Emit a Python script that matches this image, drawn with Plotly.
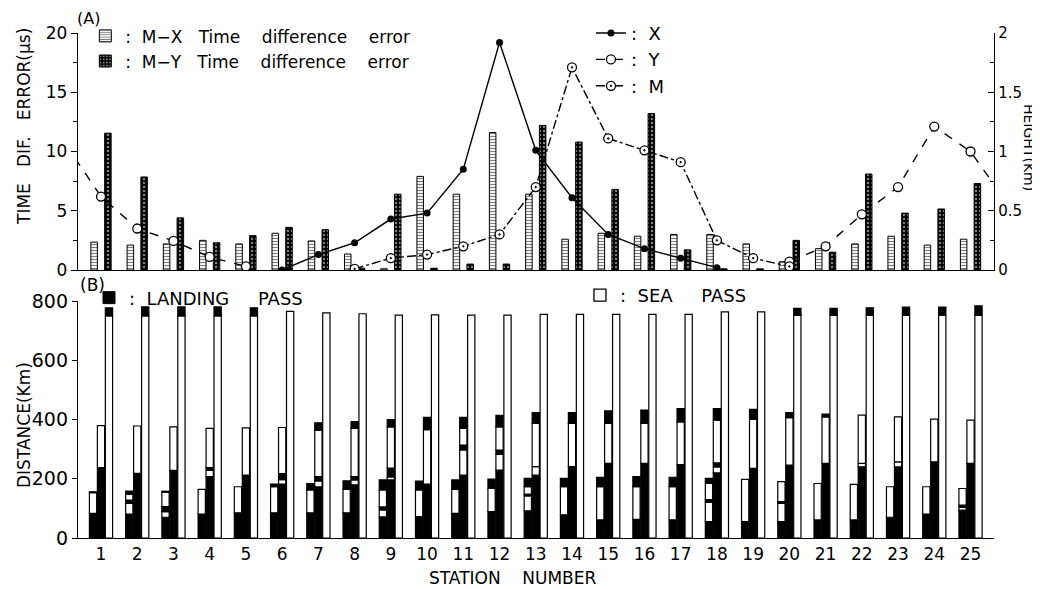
import plotly.graph_objects as go

# ---------------- data ----------------
stations = list(range(1, 26))
station_labels = [str(s) for s in stations]

# Panel (A): time difference errors (microseconds)
mx_error = [2.35, 2.1, 2.2, 2.5, 2.2, 3.1, 2.45, 1.35, 0.1, 7.9, 6.4, 11.6, 6.4,
            2.6, 3.1, 2.85, 3.0, 3.0, 2.2, 0.7, 1.8, 2.2, 2.85, 2.1, 2.6]
my_error = [11.55, 7.85, 4.4, 2.3, 2.9, 3.6, 3.4, 0.15, 6.4, 0.15, 0.5, 0.5, 12.2,
            10.8, 6.8, 13.2, 1.7, 0.1, 0.1, 2.5, 1.5, 8.1, 4.8, 5.15, 7.3]

# Panel (A): heights (km) at stations 0..26 (0 and 26 lie outside the frame)
line_stations = list(range(0, 27))
x_height = [None, None, None, None, None, None,
            0.0, 0.13, 0.23, 0.43, 0.48, 0.85, 1.92, 1.01, 0.61, 0.30, 0.18, 0.10, 0.02,
            None, None, None, None, None, None, None, None]
y_height = [1.07, 0.62, 0.35, 0.245, 0.11, 0.03,
            None, None, None, None, None, None, None, None, None, None, None, None, None, None,
            0.07, 0.20, 0.47, 0.70, 1.21, 1.00, 0.57]
m_height = [None, None, None, None, None, None, None, None,
            0.01, 0.10, 0.13, 0.20, 0.30, 0.70, 1.71, 1.11, 1.01, 0.91, 0.25, 0.10, 0.03,
            None, None, None, None, None, None]

# Panel (B): distance segments (km), bottom to top
# first and second bars: [landing, sea, landing, sea, landing]
bar1_segments = [
    [83, 0, 0, 70, 3], [81, 36, 11, 20, 10], [70, 19, 17, 49, 3], [81, 0, 0, 83, 0],
    [85, 0, 0, 88, 0], [85, 0, 0, 88, 9], [85, 0, 0, 77, 22], [85, 0, 0, 79, 29],
    [71, 24, 10, 57, 34], [72, 0, 0, 90, 30], [83, 0, 0, 81, 32], [89, 0, 0, 79, 31],
    [92, 50, 6, 25, 28], [78, 0, 0, 95, 28], [61, 0, 0, 112, 32], [63, 0, 0, 110, 34],
    [61, 0, 0, 112, 32], [55, 65, 10, 54, 17], [55, 0, 0, 143, 0], [55, 62, 6, 67, 0],
    [61, 0, 0, 123, 0], [61, 0, 0, 120, 0], [70, 0, 0, 103, 0], [81, 0, 0, 92, 0],
    [94, 9, 8, 56, 0],
]
bar2_segments = [
    [238, 0, 0, 141, 0], [218, 0, 0, 160, 0], [228, 0, 0, 147, 0], [207, 22, 9, 132, 0],
    [212, 0, 0, 160, 0], [182, 15, 20, 156, 0], [173, 20, 14, 157, 25], [179, 17, 11, 164, 22],
    [196, 10, 30, 139, 25], [182, 0, 0, 184, 41], [212, 85, 17, 56, 37], [229, 54, 14, 78, 39],
    [212, 29, 0, 146, 36], [241, 0, 0, 146, 36], [252, 0, 0, 135, 42], [252, 0, 0, 135, 45],
    [248, 0, 0, 144, 45], [220, 20, 14, 144, 39], [235, 0, 0, 165, 34], [246, 0, 0, 160, 17],
    [252, 0, 0, 157, 9], [240, 12, 0, 163, 0], [240, 17, 0, 152, 0], [257, 0, 0, 144, 0],
    [252, 0, 0, 146, 0],
]
# third bar: [sea, landing]
bar3_segments = [
    [750, 27], [750, 30], [750, 30], [750, 30], [750, 27], [765, 0], [760, 0], [757, 0],
    [752, 0], [753, 0], [752, 0], [752, 0], [755, 0], [755, 0], [755, 0], [755, 0],
    [755, 0], [763, 0], [763, 0], [752, 23], [752, 23], [752, 25], [752, 27], [752, 27],
    [752, 32],
]

# ---------------- figure ----------------
# The page body adds an 8px margin, so the figure is 8px smaller than the window.
FONT = "DejaVu Sans"
NB = "\u00a0"
fig = go.Figure()

# Panel A bars
fig.add_trace(go.Bar(
    x=stations, y=mx_error, offset=-0.28, width=0.18, xaxis="x", yaxis="y",
    name=f":{NB} M\u2212X{NB}{NB} Time{NB}{NB}{NB} difference{NB}{NB}{NB} error", legend="legend",
    marker=dict(color="white", line=dict(color="black", width=1),
                pattern=dict(shape="-", fgcolor="black", bgcolor="white", size=3, solidity=0.4)),
))
fig.add_trace(go.Bar(
    x=stations, y=my_error, offset=0.10, width=0.18, xaxis="x", yaxis="y",
    name=f":{NB} M\u2212Y{NB}{NB} Time{NB}{NB}{NB} difference{NB}{NB}{NB} error", legend="legend",
    marker=dict(color="black", line=dict(color="black", width=1),
                pattern=dict(shape=".", fgcolor="white", bgcolor="black", size=4, solidity=0.3)),
))

# Panel A lines (height, right axis)
fig.add_trace(go.Scatter(
    x=line_stations, y=x_height, xaxis="x", yaxis="y2", mode="lines+markers",
    name=f":{NB} X", legend="legend2",
    line=dict(color="black", width=1.4),
    marker=dict(symbol="circle", size=7, color="black"),
))
fig.add_trace(go.Scatter(
    x=line_stations, y=y_height, xaxis="x", yaxis="y2", mode="lines+markers",
    name=f":{NB} Y", legend="legend2",
    line=dict(color="black", width=1.4, dash="dash"),
    marker=dict(symbol="circle", size=9, color="white", line=dict(color="black", width=1.3)),
))
fig.add_trace(go.Scatter(
    x=line_stations, y=m_height, xaxis="x", yaxis="y2", mode="lines+markers",
    name=f":{NB} M", legend="legend2",
    line=dict(color="black", width=1.4, dash="dashdot"),
    marker=dict(symbol="circle-dot", size=9, color="white", line=dict(color="black", width=1.3)),
))

# Panel B stacked segments
def add_stack(segments, kinds, offset):
    base = [0] * len(stations)
    for j, kind in enumerate(kinds):
        vals = [row[j] for row in segments]
        yv = [v if v > 0 else None for v in vals]
        landing = kind == "L"
        fig.add_trace(go.Bar(
            x=stations, y=yv, base=list(base), offset=offset, width=0.2,
            xaxis="x2", yaxis="y3",
            marker=dict(color="black" if landing else "white",
                        line=dict(color="black", width=1.2)),
            showlegend=False,
        ))
        base = [b + v for b, v in zip(base, vals)]

add_stack(bar1_segments, ["L", "S", "L", "S", "L"], -0.32)
add_stack(bar2_segments, ["L", "S", "L", "S", "L"], -0.10)
add_stack(bar3_segments, ["S", "L"], 0.12)

# legend entries for panel B
fig.add_trace(go.Bar(x=[None], y=[None], xaxis="x2", yaxis="y3",
                     name=f":{NB} LANDING{NB}{NB}{NB}{NB} PASS", legend="legend3",
                     marker=dict(color="black", line=dict(color="black", width=1))))
fig.add_trace(go.Bar(x=[None], y=[None], xaxis="x2", yaxis="y3",
                     name=f":{NB} SEA{NB}{NB}{NB}{NB} PASS", legend="legend4",
                     marker=dict(color="white", line=dict(color="black", width=1.3))))

X_RANGE = [0.365, 25.648]
line_common = dict(showgrid=False, zeroline=False, linecolor="black", linewidth=1.3,
                   tickcolor="black")
tick17 = dict(family=FONT, size=17, color="black")

def legend_style(size):
    return dict(bgcolor="rgba(0,0,0,0)", borderwidth=0,
                font=dict(family=FONT, size=size, color="black"),
                xanchor="left", yanchor="top", tracegroupgap=2)

fig.update_layout(
    width=1032, height=581,
    margin=dict(l=70, r=46, t=25, b=51, autoexpand=False),
    paper_bgcolor="white", plot_bgcolor="white",
    barmode="overlay",
    font=dict(family=FONT, color="black"),
    xaxis=dict(domain=[0, 1], anchor="y", range=X_RANGE, showline=True,
               showticklabels=False, ticks="", **line_common),
    yaxis=dict(domain=[0.5307, 1], anchor="x", range=[0, 20], showline=True,
               tickvals=[0, 5, 10, 15, 20], ticks="outside", ticklen=6, tickfont=tick17,
               minor=dict(dtick=2.5, ticks="outside", ticklen=4, tickcolor="black"),
               **line_common),
    yaxis2=dict(overlaying="y", side="right", anchor="x", range=[0, 2], showline=True,
                tickvals=[0, 0.5, 1, 1.5, 2], ticktext=["0", "0.5", "1", "1.5", "2"],
                ticks="inside", ticklen=6,
                tickfont=dict(family=FONT, size=15, color="black"),
                minor=dict(dtick=0.25, ticks="inside", ticklen=4, tickcolor="black"),
                **line_common),
    xaxis2=dict(domain=[0, 1], anchor="y3", range=X_RANGE, showline=True,
                tickvals=stations, ticktext=station_labels, ticks="", tickfont=tick17,
                **line_common),
    yaxis3=dict(domain=[0, 0.4693], anchor="x2", range=[0, 800], showline=True,
                tickvals=[0, 200, 400, 600, 800], ticks="outside", ticklen=5,
                tickfont=dict(family=FONT, size=19, color="black"), **line_common),
    legend=dict(x=0.008, y=1.029, **legend_style(17)),
    legend2=dict(x=0.56, y=1.036, **legend_style(18)),
    legend3=dict(x=0.012, y=0.512, **legend_style(18)),
    legend4=dict(x=0.548, y=0.517, **legend_style(18)),
)

ann_font = dict(family=FONT, size=17, color="black")
annotations = [
    dict(text="(A)", x=(88 - 78) / 916, y=(538 - 19) / 505,
         font=dict(family=FONT, size=16, color="black")),
    dict(text="(B)", x=(92 - 78) / 916, y=(538 - 285) / 505),
    dict(text=f"TIME{NB}{NB} DIF.{NB}{NB} ERROR(\u03bcs)", x=(24 - 78) / 916, y=(538 - 127) / 505,
         textangle=-90),
    dict(text="DISTANCE(Km)", x=(24 - 78) / 916, y=(538 - 425) / 505, textangle=-90),
    dict(text="HEIGHT(Km)", x=(1029 - 78) / 916, y=(538 - 147) / 505, textangle=90,
         font=dict(family=FONT, size=14, color="black")),
    dict(text=f"STATION{NB}{NB}{NB} NUMBER", x=(513 - 78) / 916, y=(538 - 578) / 505,
         font=dict(family=FONT, size=17, color="black")),
]
for a in annotations:
    f = a.pop("font", ann_font)
    fig.add_annotation(xref="paper", yref="paper", showarrow=False, font=f,
                       xanchor="center", yanchor="middle", **a)

fig.write_html("out.html")
